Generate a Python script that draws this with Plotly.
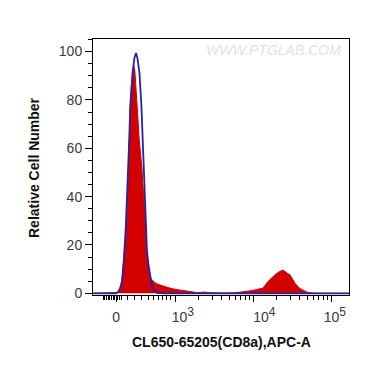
import numpy as np
import plotly.graph_objects as go

# x values are positions on the biexponential display scale, in decades
# (3 -> 10^3, 4 -> 10^4, 5 -> 10^5); 0 sits at 2.244
sample_x = [1.95, 2.24, 2.27, 2.30, 2.32, 2.33, 2.355, 2.385, 2.405, 2.42, 2.44, 2.46,
            2.47, 2.485, 2.50, 2.52, 2.54, 2.575, 2.615, 2.635, 2.655, 2.68, 2.69, 2.72,
            2.76, 2.81, 2.87, 2.94, 3.01, 3.10, 3.19, 3.28, 3.33, 3.385, 3.45, 3.51,
            3.64, 3.77, 3.87, 3.96, 4.04, 4.13, 4.19, 4.24, 4.28, 4.33, 4.385, 4.44,
            4.475, 4.54, 4.60, 4.69, 4.76, 4.86, 5.23]
sample_y = [0, 0, 0.3, 1.5, 4, 9, 18.6, 32, 53, 72, 85, 92,
            94.5, 92, 86, 75, 64, 52, 32, 18.6, 11.7, 7, 6.2, 5,
            4, 3.4, 2.7, 2.1, 1.6, 1.1, 0.6, 0.3, 0.4, 0.5, 0.2, 0.1,
            0.1, 0.2, 0.5, 1.0, 1.5, 2.2, 4.8, 6.5, 7.6, 8.8, 9.6, 8.3,
            7.6, 4.1, 2.0, 0.5, 0.1, 0, 0]

control_x = [1.95, 2.24, 2.27, 2.295, 2.32, 2.345, 2.37, 2.395, 2.415, 2.425, 2.455,
             2.48, 2.50, 2.52, 2.545, 2.57, 2.60, 2.62, 2.64, 2.66, 2.68, 2.705, 2.73,
             2.77, 2.85, 5.23]
control_y = [0, 0, 0.5, 2, 5, 14, 28, 45, 65, 77, 91,
             97.5, 99.4, 97, 91, 77, 52, 32, 18, 11.7, 7, 3, 1,
             0.2, 0, 0]

x_label_pos = [2.244, 3.10, 4.145, 5.05]
x_label_text = ["0",
                '10<sup><span style="font-size:12px">3</span></sup>',
                '10<sup><span style="font-size:12px">4</span></sup>',
                '10<sup><span style="font-size:12px">5</span></sup>']
x_major_ticks = [2.256, 3, 4, 5]
y_ticks = [0, 20, 40, 60, 80, 100]

x_range = [1.9487, 5.2308]
y_range = [-0.7, 105.2]

neg_minor = list(np.linspace(2.08, 2.31, 12))
lin_minor = [2.397, 2.487, 2.573, 2.654, 2.718, 2.782, 2.842, 2.893, 2.936]
log_minor = [d + np.log10(k) for d in (3, 4) for k in range(2, 10)]
x_minor = neg_minor + lin_minor + log_minor

RED = "#d40000"
BLUE = "#2424a8"
FONT = "Arial, Liberation Sans, sans-serif"

# the page body keeps the browser's default 8px margin, so the figure is
# made 8px smaller and its margins 8px tighter on the top/left
BODY = 8

fig = go.Figure()
fig.add_trace(go.Scatter(x=sample_x, y=sample_y, mode="lines", fill="tozeroy",
                         fillcolor=RED, line=dict(color=RED, width=1),
                         hoverinfo="skip", showlegend=False))
fig.add_trace(go.Scatter(x=control_x, y=control_y, mode="lines",
                         line=dict(color=BLUE, width=1.8),
                         hoverinfo="skip", showlegend=False))
# invisible trace to attach the tick-mark axis
fig.add_trace(go.Scatter(x=[x_range[0]], y=[0], xaxis="x2", mode="markers",
                         marker=dict(opacity=0), hoverinfo="skip", showlegend=False))

fig.update_layout(
    width=370 - BODY, height=367 - BODY,
    margin=dict(l=93 - BODY, r=21, t=39 - BODY, b=72),
    paper_bgcolor="white", plot_bgcolor="white",
    font=dict(family=FONT, color="#3a3a3a", size=14),
    xaxis=dict(range=x_range, showgrid=False, zeroline=False,
               showline=True, linecolor="black", linewidth=1, mirror=True,
               tickmode="array", tickvals=x_label_pos, ticktext=x_label_text,
               ticks="", ticklabelstandoff=9,
               tickfont=dict(size=14, color="#3a3a3a")),
    xaxis2=dict(range=x_range, overlaying="x", anchor="y", side="bottom",
                showgrid=False, zeroline=False, showline=False,
                showticklabels=False, tickmode="array", tickvals=x_major_ticks,
                ticks="outside", ticklen=6, tickwidth=1.2, tickcolor="black",
                minor=dict(tickmode="array", tickvals=x_minor, ticks="outside",
                           ticklen=3.5, tickwidth=1, tickcolor="black", showgrid=False)),
    yaxis=dict(range=y_range, showgrid=False, zeroline=False,
               showline=True, linecolor="black", linewidth=1, mirror=True,
               tickmode="array", tickvals=y_ticks,
               ticks="outside", ticklen=7, tickwidth=1.2, tickcolor="black",
               minor=dict(dtick=5, tick0=0, ticks="outside", ticklen=4,
                          tickwidth=1, tickcolor="black", showgrid=False),
               tickfont=dict(size=14, color="#3a3a3a")),
    annotations=[
        dict(text="<b>CL650-65205(CD8a),APC-A</b>", xref="paper", yref="paper",
             x=0.5, y=-0.1824, xanchor="center", yanchor="middle", showarrow=False,
             font=dict(family=FONT, size=14, color="#111111")),
        dict(text="<b>Relative Cell Number</b>", xref="paper", yref="paper",
             x=-0.2305, y=0.5, xanchor="center", yanchor="middle", showarrow=False,
             textangle=-90, font=dict(family=FONT, size=14, color="#111111")),
        dict(text="<i>WWW.PTGLAB.COM</i>", xref="paper", yref="paper",
             x=(273 - 93) / 256, y=(295 - 50) / 256, xanchor="center", yanchor="middle",
             showarrow=False, font=dict(family=FONT, size=14, color="#e2e2e2")),
    ],
)

fig.write_html("out.html")
